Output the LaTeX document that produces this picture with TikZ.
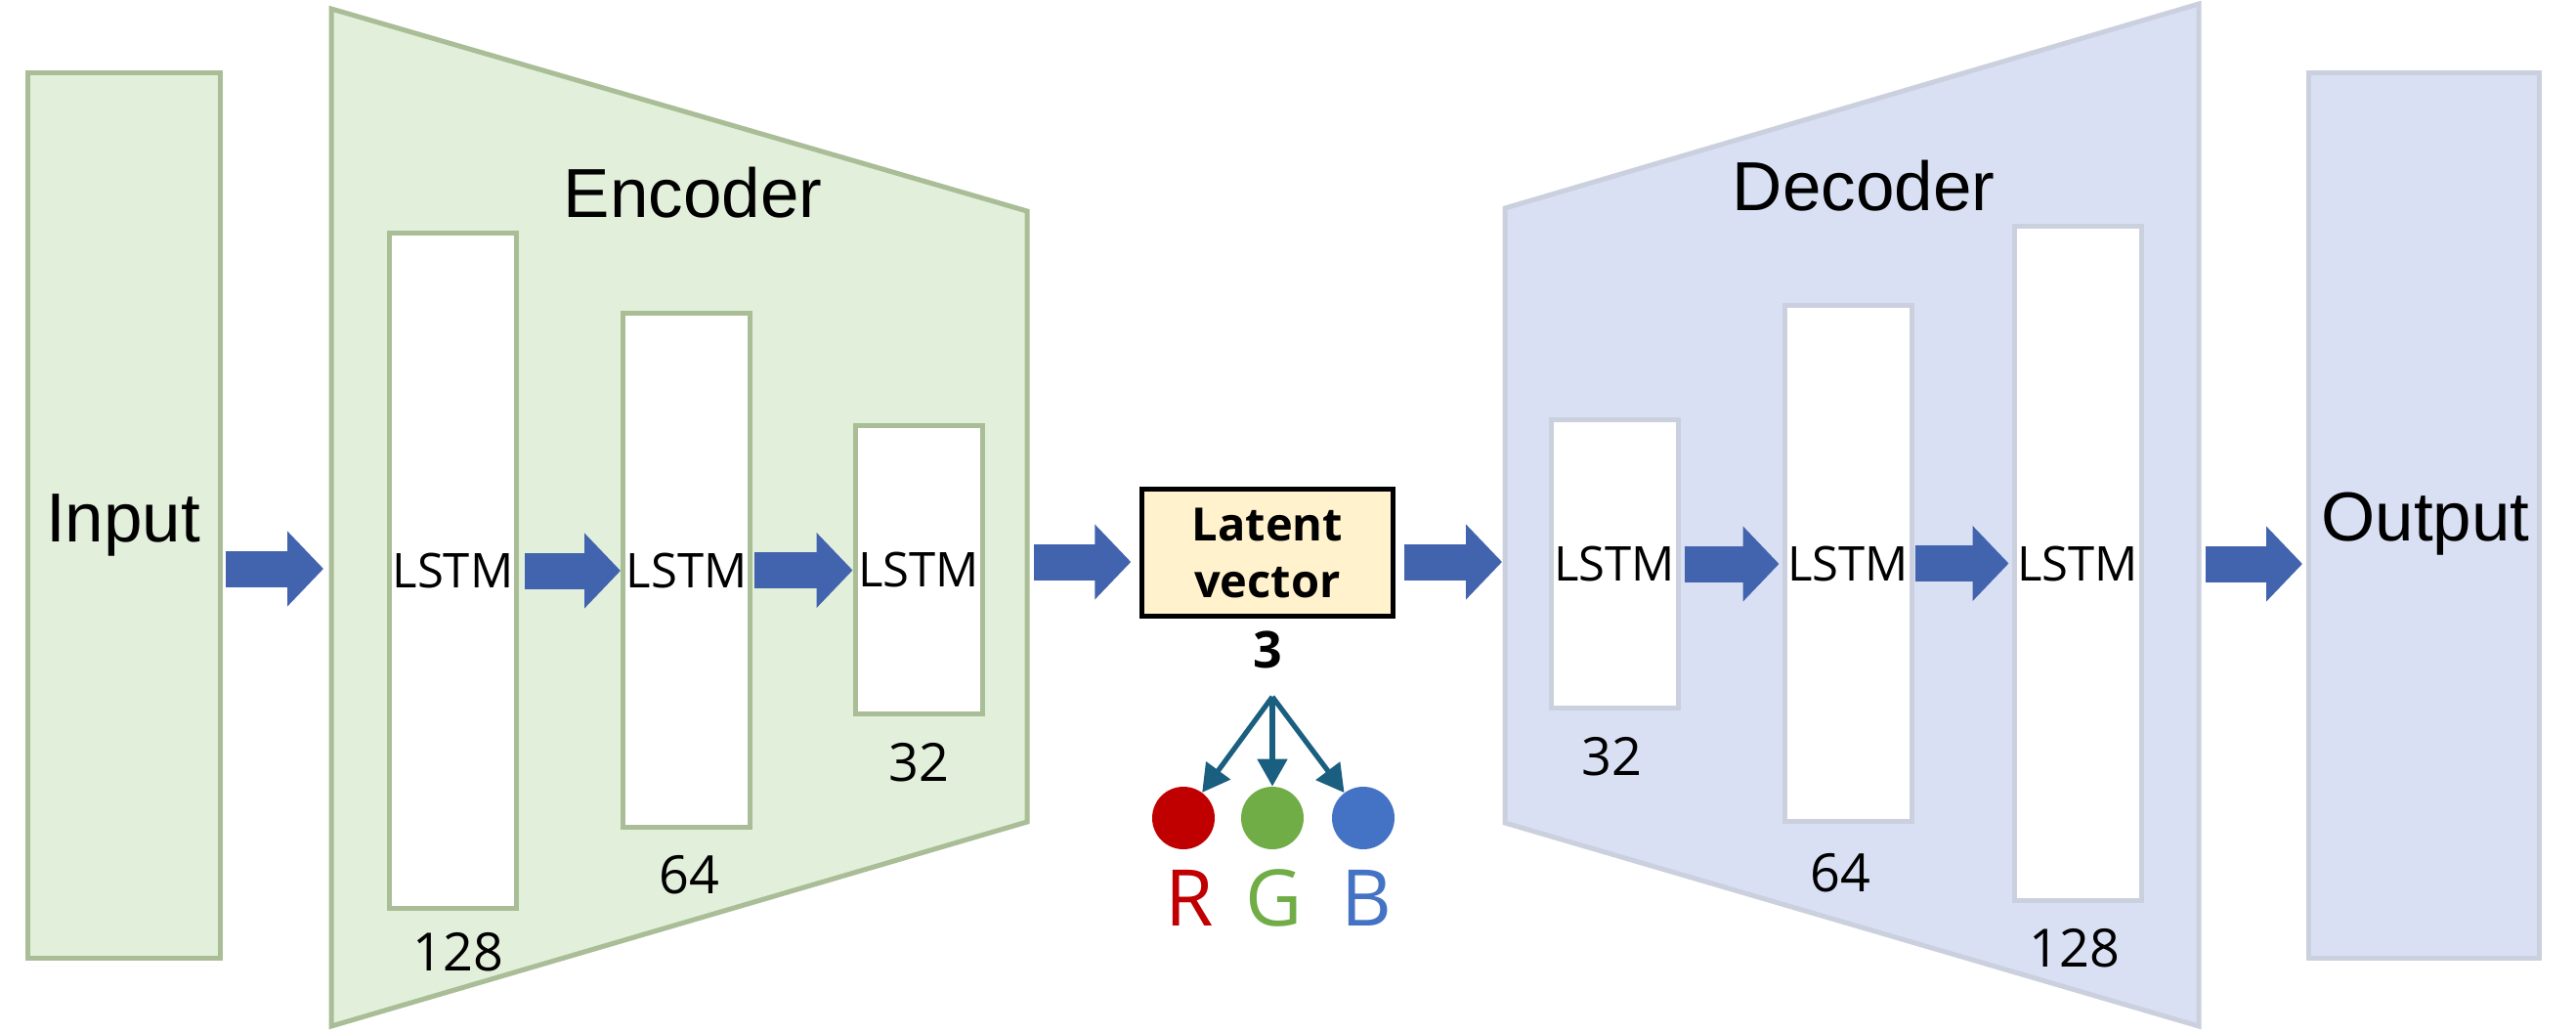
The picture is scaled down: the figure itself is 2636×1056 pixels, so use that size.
\documentclass[tikz,border=0pt]{standalone}
\usepackage{fontspec}
\newfontfamily\arialf{Liberation Sans}
\newfontfamily\segf{Open Sans}
\usetikzlibrary{arrows.meta}
\definecolor{encfill}{HTML}{E2EFDA}
\definecolor{encdraw}{HTML}{A9BD96}
\definecolor{decfill}{HTML}{DAE0F3}
\definecolor{decdraw}{HTML}{CBD0DE}
\definecolor{arrblue}{HTML}{4264AE}
\definecolor{latfill}{HTML}{FFF2CC}
\definecolor{splitc}{HTML}{1B5F80}
\definecolor{rc}{HTML}{C00000}
\definecolor{gc}{HTML}{70AD47}
\definecolor{bc}{HTML}{4472C4}
\tikzset{
  iobox/.style={line width=2.5pt, inner sep=0pt, minimum height=453pt},
  bigtext/.style={font=\arialf\fontsize{35.5}{40}\selectfont, inner sep=0pt},
  lstmbox/.style={fill=white, line width=2.5pt, inner sep=0pt, minimum width=65pt,
                  font=\segf\fontsize{24.5}{29}\selectfont},
  lstmE/.style={lstmbox, draw=encdraw},
  lstmD/.style={lstmbox, draw=decdraw},
  numtext/.style={font=\segf\fontsize{27}{32}\selectfont, inner sep=0pt},
  blockarr/.style={arrblue, line width=18.5pt,
                   -{Triangle[width=37.5pt,length=18.5pt]}},
  splitarr/.style={splitc, line width=2.6pt,
                   -{Triangle[width=15pt,length=14pt]}},
  dot/.style={circle, inner sep=0pt, minimum size=32pt},
  rgbtext/.style={font=\segf\fontsize{40}{46}\selectfont, inner sep=0pt, anchor=base},
}
\begin{document}
\begin{tikzpicture}[x=0.5pt,y=-0.5pt]
\useasboundingbox (0,0) rectangle (2636,1056);
\fill[white] (0,0) rectangle (2636,1056);

% Input
\node[iobox, draw=encdraw, fill=encfill, minimum width=98.5pt] (in) at (126.5,527.5) {};
\node[bigtext, anchor=base] (intext) at (126,554) {Input};

% Encoder trapezoid
\draw[draw=encdraw, fill=encfill, line width=2.5pt, line join=miter]
  (339,9) -- (1051,216) -- (1051,841) -- (339,1050) -- cycle;
\coordinate (encL) at (339,582);
\coordinate (encR) at (1051,575);
\node[bigtext, anchor=base] (enctext) at (709,222) {Encoder};

\node[lstmE, minimum height=345.5pt] (e1) at (463.5,584) {LSTM};
\node[lstmE, minimum height=263pt] (e2) at (702.5,583.5) {LSTM};
\node[lstmE, minimum height=147.5pt] (e3) at (940,583) {LSTM};
\node[numtext] (n1) at (469,974) {128};
\node[numtext] (n2) at (705,895) {64};
\node[numtext] (n3) at (940,780) {32};

% Decoder trapezoid
\draw[draw=decdraw, fill=decfill, line width=2.5pt, line join=miter]
  (1540,213) -- (2250,4) -- (2250,1050) -- (1540,842) -- cycle;
\coordinate (decL) at (1540,575);
\coordinate (decR) at (2250,577);
\node[bigtext, anchor=base] (dectext) at (1907,215) {Decoder};

\node[lstmD, minimum height=147.5pt] (d1) at (1652,577) {LSTM};
\node[lstmD, minimum height=264pt] (d2) at (1891,576.5) {LSTM};
\node[lstmD, minimum height=345pt] (d3) at (2126,576.5) {LSTM};
\node[numtext] (m1) at (1649,774) {32};
\node[numtext] (m2) at (1883,893) {64};
\node[numtext] (m3) at (2123,970) {128};

% Output
\node[iobox, draw=decdraw, fill=decfill, minimum width=118pt] (out) at (2480.5,527.5) {};
\node[bigtext, anchor=base] (outtext) at (2482,553) {Output};

% Latent vector
\node[draw=black, fill=latfill, line width=2.25pt, minimum width=128.5pt, minimum height=65pt,
      inner sep=0pt, align=center, font=\segf\bfseries\fontsize{23.5}{29}\selectfont]
      (lat) at (1297,565.5) {Latent\\vector};
\node[font=\segf\bfseries\fontsize{26}{30}\selectfont, inner sep=0pt] (three) at (1297,665) {3};

% RGB
\coordinate (split) at (1302,713);
\node[dot, fill=rc] (r) at (1211,837) {};
\node[dot, fill=gc] (g) at (1302,837) {};
\node[dot, fill=bc] (b) at (1395,837) {};
\draw[splitarr] (split) -- (r);
\draw[splitarr] (split) -- (g);
\draw[splitarr] (split) -- (b);
\node[rgbtext, text=rc] (rt) at (1217,947) {R};
\node[rgbtext, text=gc] (gt) at (1304,947) {G};
\node[rgbtext, text=bc] (bt) at (1398,947) {B};

% Block arrows
\draw[blockarr, shorten <=1.5pt, shorten >=4pt] (in.east |- encL) -- (encL);
\draw[blockarr, shorten <=3pt] (e1.east) -- (e1.east -| e2.west);
\draw[blockarr, shorten <=1pt] (e2.east) -- (e2.east -| e3.west);
\draw[blockarr, shorten <=3.5pt, shorten >=4.5pt] (encR) -- (encR -| lat.west);
\draw[blockarr, shorten <=4.5pt, shorten >=1.5pt] (lat.east |- decL) -- (decL);
\draw[blockarr, shorten <=2pt, shorten >=1.5pt] (d1.east) -- (d1.east -| d2.west);
\draw[blockarr, shorten <=0.5pt, shorten >=1.5pt] (d2.east) -- (d2.east -| d3.west);
\draw[blockarr, shorten <=3.5pt, shorten >=2pt] (decR) -- (decR -| out.west);
\end{tikzpicture}
\end{document}
